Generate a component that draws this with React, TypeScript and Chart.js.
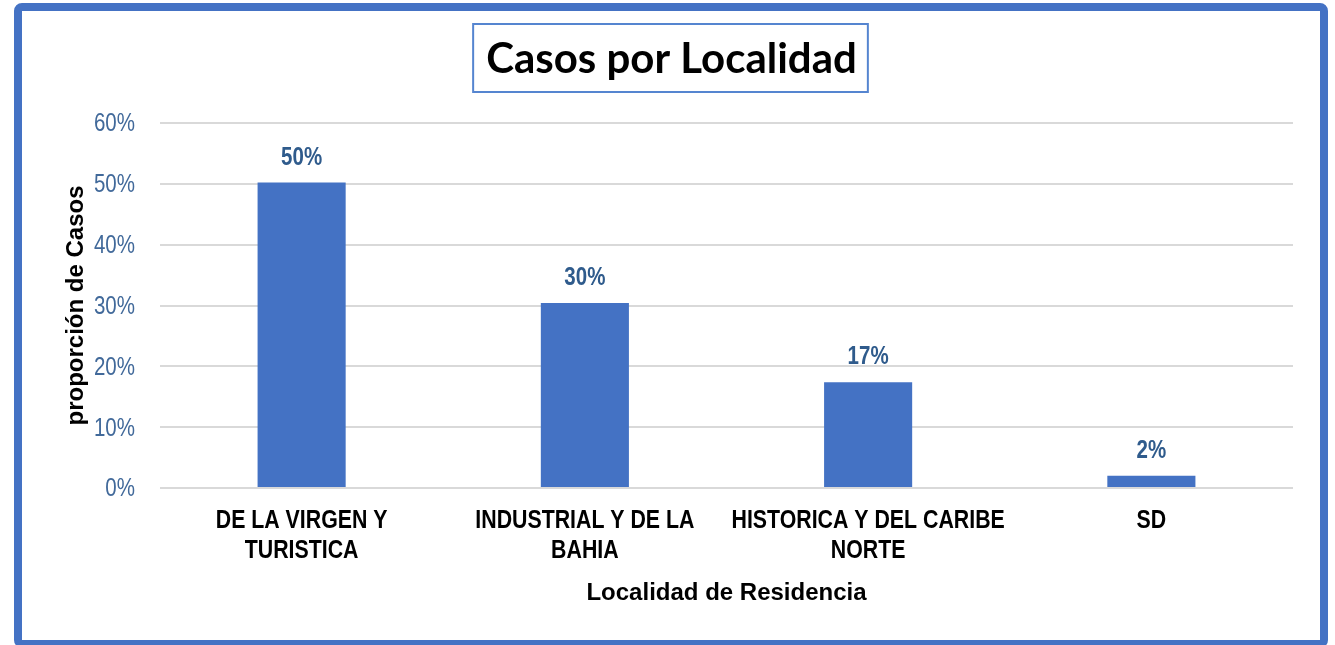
import React, { useEffect, useRef } from "react";
import { Chart, registerables } from "chart.js";

Chart.register(...registerables);

const categories: string[][] = [
  ["DE LA VIRGEN Y", "TURISTICA"],
  ["INDUSTRIAL Y DE LA", "BAHIA"],
  ["HISTORICA Y DEL CARIBE", "NORTE"],
  ["SD"],
];
const values: number[] = [50.2, 30.4, 17.4, 2.0];
const valueLabels: string[] = ["50%", "30%", "17%", "2%"];
const yTickValues: number[] = [0, 10, 20, 30, 40, 50, 60];
const chartTitle = "Casos por Localidad";
const xAxisTitle = "Localidad de Residencia";
const yAxisTitle = "proporción de Casos";

const BLUE = "#4472C4";
const SANS = "'Liberation Sans', Arial, sans-serif";
const NARROW_SCALE = 0.82;

function narrowText(ctx: CanvasRenderingContext2D, text: string, x: number, y: number, align: CanvasTextAlign) {
  ctx.save();
  ctx.translate(x, y);
  ctx.scale(NARROW_SCALE, 1);
  ctx.textAlign = align;
  ctx.textBaseline = "middle";
  ctx.fillText(text, 0, 0);
  ctx.restore();
}

const decorPlugin = {
  id: "decor",
  beforeDraw(chart: any) {
    const ctx = chart.ctx;
    ctx.save();
    ctx.fillStyle = "#ffffff";
    ctx.fillRect(0, 0, chart.width, chart.height);
    ctx.restore();
  },
  afterDatasetsDraw(chart: any) {
    const ctx = chart.ctx;
    const meta = chart.getDatasetMeta(0);
    ctx.save();
    ctx.font = `bold 25px ${SANS}`;
    ctx.fillStyle = "#2F5B8C";
    meta.data.forEach((bar: any, i: number) => {
      narrowText(ctx, valueLabels[i], bar.x, bar.y - 25, "center");
    });
    ctx.restore();
  },
  afterDraw(chart: any) {
    const ctx = chart.ctx;
    const xs = chart.scales.x;
    const ys = chart.scales.y;
    ctx.save();
    // y tick labels (narrow)
    ctx.font = `25px ${SANS}`;
    ctx.fillStyle = "#41699A";
    ys.ticks.forEach((t: any) => {
      narrowText(ctx, `${t.value}%`, ys.right - 25, ys.getPixelForValue(t.value) + 1.5, "right");
    });
    // x tick labels (narrow bold, multi-line)
    ctx.font = `bold 26px ${SANS}`;
    ctx.fillStyle = "#000000";
    categories.forEach((lines, i) => {
      const x = xs.getPixelForTick(i);
      lines.forEach((line, j) => {
        narrowText(ctx, line, x, xs.top + 33 + j * 30, "center");
      });
    });
    // title
    ctx.font = "bold 42px Lato, 'Open Sans', sans-serif";
    ctx.fillStyle = "#000000";
    ctx.textAlign = "center";
    ctx.textBaseline = "middle";
    const cx = 670.5;
    const cy = 58;
    ctx.fillText(chartTitle, cx + 1, cy + 1);
    const tw = ctx.measureText(chartTitle).width;
    ctx.strokeStyle = "#5585D0";
    ctx.lineWidth = 2;
    ctx.strokeRect(cx - tw / 2 - 12, 24, tw + 24, 68);
    // outer frame
    ctx.strokeStyle = BLUE;
    ctx.lineWidth = 8;
    ctx.beginPath();
    (ctx as any).roundRect(18, 7, 1306, 637, 4);
    ctx.stroke();
    ctx.restore();
  },
};

export default function App() {
  const ref = useRef<HTMLCanvasElement | null>(null);

  useEffect(() => {
    if (!ref.current) return;
    const chart = new Chart(ref.current, {
      type: "bar",
      data: {
        labels: categories as any,
        datasets: [
          {
            data: values,
            backgroundColor: BLUE,
            borderWidth: 0,
            categoryPercentage: 1,
            barPercentage: 0.311,
          },
        ],
      },
      options: {
        responsive: false,
        animation: false,
        devicePixelRatio: 1,
        layout: { padding: { left: 0, right: 42, top: 123, bottom: 0 } },
        plugins: {
          legend: { display: false },
          title: { display: false },
          tooltip: { enabled: false },
        },
        scales: {
          x: {
            grid: { display: false, drawTicks: false },
            border: { display: false },
            ticks: { display: false, autoSkip: false, maxRotation: 0 },
            title: {
              display: true,
              text: xAxisTitle,
              color: "#000000",
              font: { family: SANS, size: 24, weight: "bold", lineHeight: 1.2 },
              padding: { top: 0, bottom: 37.6 },
            },
            afterFit(scale: any) {
              scale.height = 157;
            },
          },
          y: {
            min: 0,
            max: 60,
            afterBuildTicks(scale: any) {
              scale.ticks = yTickValues.map((v) => ({ value: v }));
            },
            grid: { color: "#D9D9D9", lineWidth: 2, drawTicks: false },
            border: { display: false },
            ticks: { display: false },
            title: {
              display: true,
              text: yAxisTitle,
              color: "#000000",
              font: { family: SANS, size: 24, weight: "bold", lineHeight: 1.2 },
              padding: { top: 61.6, bottom: 0 },
            },
            afterFit(scale: any) {
              scale.width = 160;
            },
          },
        },
      },
      plugins: [decorPlugin],
    });
    return () => chart.destroy();
  }, []);

  return (
    <div style={{ position: "fixed", left: 0, top: 0, width: 1335, height: 645, background: "#fff" }}>
      <canvas ref={ref} width={1335} height={645} style={{ display: "block" }} />
    </div>
  );
}
